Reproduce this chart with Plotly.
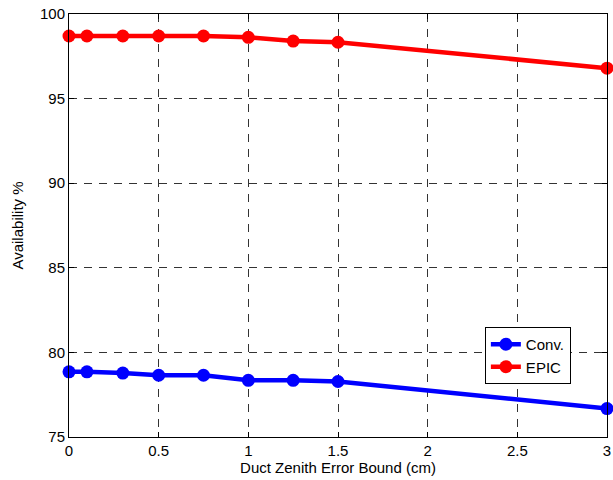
import plotly.graph_objects as go

x_vals = [0, 0.1, 0.3, 0.5, 0.75, 1.0, 1.25, 1.5, 3.0]
conv = [78.85, 78.85, 78.78, 78.65, 78.65, 78.35, 78.35, 78.28, 76.68]
epic = [98.7, 98.7, 98.7, 98.7, 98.7, 98.62, 98.4, 98.33, 96.8]
x_ticks = [0, 0.5, 1, 1.5, 2, 2.5, 3]
x_tick_text = ["0", "0.5", "1", "1.5", "2", "2.5", "3"]
y_ticks = [75, 80, 85, 90, 95, 100]

fig = go.Figure()
fig.add_trace(go.Scatter(x=x_vals, y=conv, mode="lines+markers", name="Conv.",
                         line=dict(color="#0000ff", width=4.5),
                         marker=dict(size=13, color="#0000ff"), cliponaxis=False))
fig.add_trace(go.Scatter(x=x_vals, y=epic, mode="lines+markers", name="EPIC",
                         line=dict(color="#ff0000", width=4.5),
                         marker=dict(size=13, color="#ff0000"), cliponaxis=False))

axis_common = dict(showline=True, linecolor="black", linewidth=1, mirror="ticks",
                   ticks="inside", ticklen=5, tickcolor="black",
                   showgrid=True, gridcolor="#333", griddash="8px,7px", gridwidth=1,
                   zeroline=False, automargin=False,
                   tickfont=dict(size=15, color="black"))

fig.update_xaxes(range=[0, 3], tickvals=x_ticks, ticktext=x_tick_text,
                 title=dict(text="Duct Zenith Error Bound (cm)", font=dict(size=15, color="black"), standoff=3),
                 **axis_common)
fig.update_yaxes(range=[75, 100], tickvals=y_ticks,
                 title=dict(text="Availability %", font=dict(size=15, color="black"), standoff=12),
                 **axis_common)

fig.update_layout(width=613, height=480,
                  margin=dict(l=69, r=6, t=14, b=43),
                  plot_bgcolor="white", paper_bgcolor="white",
                  font=dict(family="Liberation Sans, Arial, sans-serif", color="black"),
                  legend=dict(x=0.773, y=0.26, xanchor="left", yanchor="top",
                              bgcolor="white", bordercolor="black", borderwidth=1,
                              font=dict(size=15, color="black")),
                  showlegend=True)

fig.write_html("out.html", config={"displayModeBar": False},
               post_script="document.body.style.margin='0';document.body.style.overflow='hidden';")
